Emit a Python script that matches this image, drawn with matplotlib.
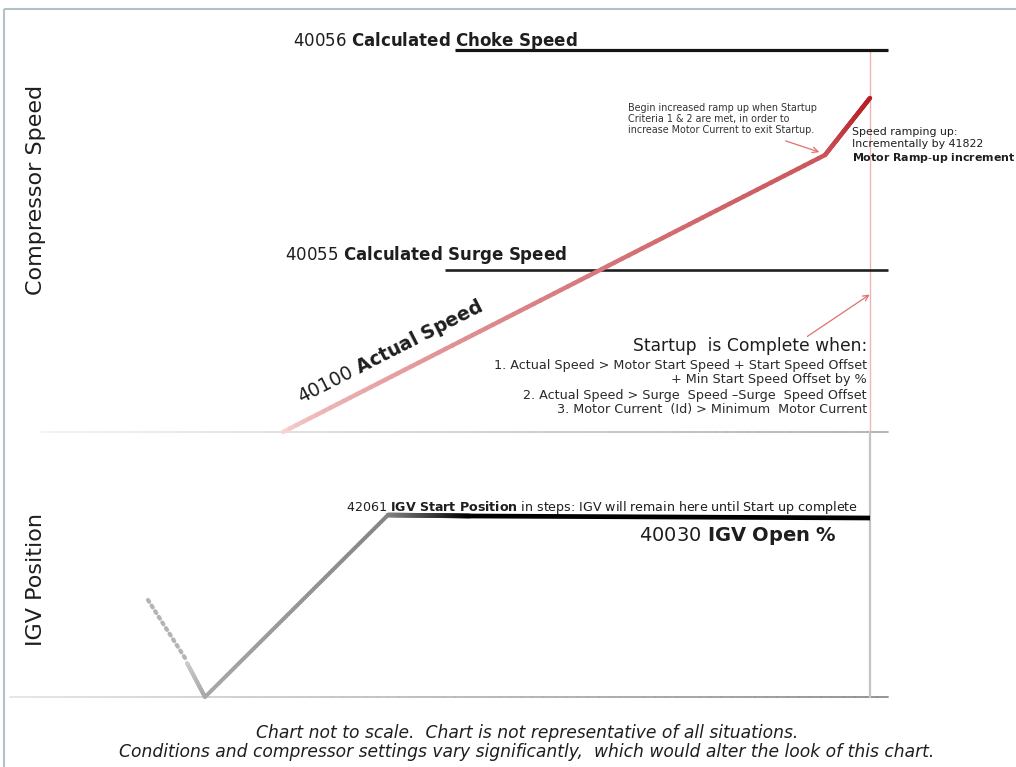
import numpy as np
import matplotlib
matplotlib.use("Agg")
import matplotlib.pyplot as plt
from matplotlib.collections import LineCollection
from matplotlib.colors import to_rgb

# ---- data (diagram coordinates, pixel-like units, y grows downward) ----
speed_x = [283, 825, 870]
speed_y = [432, 155, 98]

igv_x = [187, 205, 388]
igv_y = [663, 697, 515]
igv_hold_x = [388, 870]
igv_hold_y = [515, 518]
igv_dot_x = [148, 185]
igv_dot_y = [600, 658]

choke_x = [455, 888]
choke_y = [50, 50]
surge_x = [445, 888]
surge_y = [270, 270]

speed_base_x = [40, 888]
speed_base_y = [432, 432]
igv_base_x = [10, 888]
igv_base_y = [697, 697]

startup_x = [870, 870]
startup_top_y = [50, 432]
startup_bot_y = [432, 697]

criteria_lines = [
    "1. Actual Speed > Motor Start Speed + Start Speed Offset",
    "+ Min Start Speed Offset by %",
    "2. Actual Speed > Surge  Speed \u2013Surge  Speed Offset",
    "3. Motor Current  (Id) > Minimum  Motor Current",
]

fig = plt.figure(figsize=(10.16, 7.67), dpi=100)
ax = fig.add_axes([0, 0, 1, 1])
ax.set_xlim(0, 1016)
ax.set_ylim(767, 0)
ax.axis("off")


def gradient_line(xs, ys, c0, c1, lw, n=80, z=3, gamma=1.0):
    pts_x, pts_y = [], []
    for i in range(len(xs) - 1):
        t = np.linspace(0, 1, n, endpoint=(i == len(xs) - 2))
        pts_x.extend(xs[i] + (xs[i + 1] - xs[i]) * t)
        pts_y.extend(ys[i] + (ys[i + 1] - ys[i]) * t)
    pts = np.column_stack([pts_x, pts_y])
    segs = np.stack([pts[:-1], pts[1:]], axis=1)
    a, b = np.array(to_rgb(c0)), np.array(to_rgb(c1))
    f = np.linspace(0, 1, len(segs))[:, None] ** gamma
    cols = a + (b - a) * f
    lc = LineCollection(segs, colors=cols, linewidths=lw, capstyle="round", zorder=z)
    ax.add_collection(lc)


# frame
ax.plot([4, 1016], [9, 9], color="#b4c0c8", lw=1.5, solid_capstyle="butt")
ax.plot([4, 4], [9, 767], color="#b4c0c8", lw=1.5, solid_capstyle="butt")

# baselines
gradient_line(speed_base_x, speed_base_y, "#f2f2f2", "#a8a8a8", 1.2, z=1)
gradient_line(igv_base_x, igv_base_y, "#e4e4e4", "#8c8c8c", 1.3, z=1)

# vertical startup-complete marker
ax.plot(startup_x, startup_top_y, color="#f0b4b4", lw=1.0, zorder=1)
ax.plot(startup_x, startup_bot_y, color="#c4c4c4", lw=1.6, zorder=1)

# choke and surge lines
ax.plot(choke_x, choke_y, color="#151515", lw=2.3, solid_capstyle="butt", zorder=2)
ax.plot(surge_x, surge_y, color="#202020", lw=1.9, solid_capstyle="butt", zorder=2)

# actual speed
gradient_line(speed_x, speed_y, "#f6d4d4", "#b81c24", 3.2, gamma=0.55)

# IGV
ax.plot(igv_dot_x, igv_dot_y, color="#b4b4b4", lw=3, linestyle=(0, (0.5, 1.1)),
        dash_capstyle="round", zorder=3)
gradient_line(igv_x, igv_y, "#cccccc", "#858585", 2.8)
gradient_line(igv_hold_x[:1] + [470], [515, 516], "#858585", "#000000", 3.4)
ax.plot([470, igv_hold_x[1]], [516, igv_hold_y[1]], color="#000000", lw=3.4,
        solid_capstyle="butt", zorder=3)

tc = "#1e1e1e"
# axis labels
ax.text(36, 190, "Compressor Speed", rotation=90, ha="center", va="center",
        fontsize=16, color=tc)
ax.text(36, 580, "IGV Position", rotation=90, ha="center", va="center",
        fontsize=16, color=tc)

# line labels
ax.text(293, 41, r"40056 $\bf{Calculated\ Choke\ Speed}$", ha="left", va="center",
        fontsize=12, color=tc)
ax.text(285, 255, r"40055 $\bf{Calculated\ Surge\ Speed}$", ha="left", va="center",
        fontsize=12, color=tc)
ax.text(301, 404, r"40100 $\bf{Actual\ Speed}$", rotation=27, rotation_mode="anchor",
        ha="left", va="baseline", fontsize=13.5, color=tc)

# startup criteria
ax.text(867, 346, "Startup  is Complete when:", ha="right", va="center",
        fontsize=12.3, color=tc)
for i, line in enumerate(criteria_lines):
    ax.text(867, 365 + 15 * i, line, ha="right", va="center", fontsize=9.2, color="#2a2a2a")

# IGV labels
ax.text(858, 507, r"42061 $\bf{IGV\ Start\ Position}$ in steps: IGV will remain here until Start up complete",
        ha="right", va="center", fontsize=9.1, color=tc)
ax.text(837, 536, r"40030 $\bf{IGV\ Open\ \%}$", ha="right", va="center",
        fontsize=14, color=tc)

# ramp annotations
ax.text(628, 119, "Begin increased ramp up when Startup\nCriteria 1 & 2 are met, in order to\nincrease Motor Current to exit Startup.",
        ha="left", va="center", fontsize=6.9, color="#333333", linespacing=1.15)
ax.text(852, 146, "Speed ramping up:\nIncrementally by 41822\n" + r"$\bf{Motor\ Ramp\text{-}up\ increment}$",
        ha="left", va="center", fontsize=7.9, color=tc, linespacing=1.2)
ax.annotate("", xy=(822, 153), xytext=(783, 140),
            arrowprops=dict(arrowstyle="->", color="#e07070", lw=0.9))
ax.annotate("", xy=(872, 293), xytext=(805, 338),
            arrowprops=dict(arrowstyle="->", color="#e07070", lw=0.9))

# footnote
ax.text(527, 733, "Chart not to scale.  Chart is not representative of all situations.",
        ha="center", va="center", fontsize=12.3, style="italic", color=tc)
ax.text(527, 752, "Conditions and compressor settings vary significantly,  which would alter the look of this chart.",
        ha="center", va="center", fontsize=12.3, style="italic", color=tc)

fig.savefig("out.png", dpi=100)
